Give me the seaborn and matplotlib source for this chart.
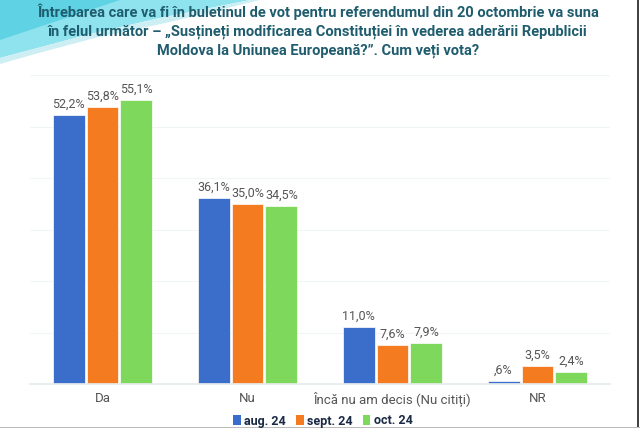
import matplotlib
matplotlib.use("Agg")
import matplotlib.pyplot as plt
import seaborn as sns
import pandas as pd
from matplotlib.patches import Polygon, Rectangle, Patch

categories = ["Da", "Nu", "Încă nu am decis (Nu citiți)", "NR"]
series = ["aug. 24", "sept. 24", "oct. 24"]
aug_vals = [52.2, 36.1, 11.0, 0.6]
sep_vals = [53.8, 35.0, 7.6, 3.5]
oct_vals = [55.1, 34.5, 7.9, 2.4]
aug_labels = ["52,2%", "36,1%", "11,0%", ",6%"]
sep_labels = ["53,8%", "35,0%", "7,6%", "3,5%"]
oct_labels = ["55,1%", "34,5%", "7,9%", "2,4%"]
title_lines = [
    "Întrebarea care va fi în buletinul de vot pentru referendumul din 20 octombrie va suna",
    "în felul următor – „Susțineți modificarea Constituției în vederea aderării Republicii",
    "Moldova la Uniunea Europeană?”. Cum veți vota?",
]

colors = ["#3B6DCB", "#F47B20", "#7DD85B"]

rows = []
for s, vals in zip(series, [aug_vals, sep_vals, oct_vals]):
    for c, v in zip(categories, vals):
        rows.append({"cat": c, "series": s, "val": v})
df = pd.DataFrame(rows)

sns.set_theme(style="white")
plt.rcParams["font.family"] = ["Roboto", "DejaVu Sans"]

fig = plt.figure(figsize=(6.4, 4.28), dpi=100)
fig.patch.set_facecolor("white")

W, H = 640, 428
def fc(pts):
    return [(x / W, 1 - y / H) for x, y in pts]
fig.patches.append(Polygon(fc([(0, 0), (250, 0), (160, 18), (90, 34), (30, 50), (0, 58)]),
                           closed=True, transform=fig.transFigure, facecolor="#8fe3ee", edgecolor="none", zorder=0))
fig.patches.append(Polygon(fc([(0, 0), (120, 0), (60, 20), (0, 40)]),
                           closed=True, transform=fig.transFigure, facecolor="#5fd2e3", edgecolor="none", zorder=0))
fig.patches.append(Polygon(fc([(0, 58), (30, 50), (90, 34), (160, 18), (250, 0), (260, 0), (170, 22), (95, 38), (35, 54), (0, 64)]),
                           closed=True, transform=fig.transFigure, facecolor="#cdeff4", edgecolor="none", zorder=0))
fig.patches.append(Rectangle((637 / W, 0), 2 / W, 1, transform=fig.transFigure, facecolor="#444444", edgecolor="none"))
fig.patches.append(Rectangle((0, 0), 1, 1.5 / H, transform=fig.transFigure, facecolor="#bbbbbb", edgecolor="none"))

ax = fig.add_axes([30 / W, 1 - 384 / H, 580 / W, 309 / H])
sns.barplot(data=df, x="cat", y="val", hue="series", palette=colors, ax=ax,
            width=0.7, gap=0.06, legend=False, order=categories, hue_order=series,
            saturation=1, edgecolor="white", linewidth=0.5)
ax.set_ylim(0, 60)
ax.set_yticks([0, 10, 20, 30, 40, 50, 60])
ax.set_yticklabels([])
ax.grid(axis="y", color="#f0f5f7", linewidth=0.8)
ax.set_axisbelow(True)
for sp in ["top", "right", "left"]:
    ax.spines[sp].set_visible(False)
ax.spines["bottom"].set_color("#e6ecee")
ax.tick_params(axis="both", length=0)
ax.set_xlabel("")
ax.set_ylabel("")
ax.set_xticks(range(len(categories)))
ax.set_xticklabels(categories, color="#555555", fontsize=9.5)
ax.tick_params(axis="x", pad=6)

for cont, labs in zip(ax.containers, [aug_labels, sep_labels, oct_labels]):
    ax.bar_label(cont, labels=labs, padding=3, color="#555555", fontsize=9)

for i, line in enumerate(title_lines):
    fig.text(318 / W, 1 - (12 + i * 19.5) / H, line, ha="center", va="center",
             fontsize=10.5, fontweight="bold", color="#1f5d6e")

handles = [Patch(facecolor=c, edgecolor="none") for c in colors]
fig.legend(handles, series, loc="center", bbox_to_anchor=(323 / W, 1 - 421 / H), ncol=3,
           frameon=False, prop={"weight": "bold", "size": 9}, handlelength=0.6, handleheight=0.8,
           handletextpad=0.3, columnspacing=0.8, labelcolor="#1a2a44")

fig.savefig("out.png", dpi=100)
